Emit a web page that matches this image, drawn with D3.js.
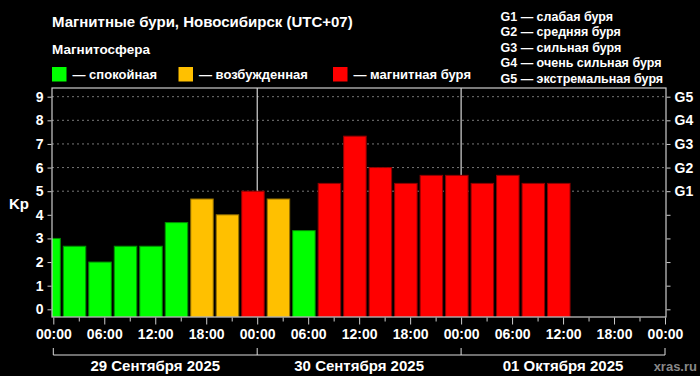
<!DOCTYPE html>
<html>
<head>
<meta charset="utf-8">
<script src="https://cdn.jsdelivr.net/npm/d3@7"></script>
<style>
    body { margin: 0; background: #000; }
    svg { display: block; font-family: "Liberation Sans", Arial, sans-serif; font-weight: bold; }
</style>
</head>
<body>
<div id="chart"></div>
<script>
// Kp index, 3-hour bins, local time UTC+07
let binStart = "2025-09-28T22:00:00Z"
let binHours = 3
let kpValues = [3, 2.67, 2, 2.67, 2.67, 3.67, 4.67, 4, 5, 4.67, 3.33,
    5.33, 7.33, 6, 5.33, 5.67, 5.67, 5.33, 5.67, 5.33, 5.33]

let days = ["2025-09-29", "2025-09-30", "2025-10-01", "2025-10-02"]
let dayLabels = ["29 Сентября 2025", "30 Сентября 2025", "01 Октября 2025"]
let kpTicks = [0, 1, 2, 3, 4, 5, 6, 7, 8, 9]
let gLevels = [5, 6, 7, 8, 9]
let gLabels = ["G1", "G2", "G3", "G4", "G5"]
let gDescriptions = ["слабая буря", "средняя буря", "сильная буря", "очень сильная буря", "экстремальная буря"]
let legendNames = ["спокойная", "возбужденная", "магнитная буря"]
let legendColors = ["#00ff00", "#ffc000", "#ff0000"]

let svgWidth = 700
let svgHeight = 376
let plot = { 'left': 52, 'right': 666, 'top': 88, 'bottom': 317 }

let svg = d3.select('#chart').append('svg')
    .attr('width', svgWidth)
    .attr('height', svgHeight)

svg.append('rect')
    .attr('width', svgWidth)
    .attr('height', svgHeight)
    .attr('fill', '#000')

let x = d3.scaleUtc()
    .domain([new Date(days[0] + "T00:00:00Z"), new Date(days[3] + "T00:00:00Z")])
    .range([53.3, 665])

let y = d3.scaleLinear()
    .domain([0, 9])
    .range([309.3, 96.7])

let color = d3.scaleThreshold()
    .domain([4, 5])
    .range(legendColors)

let bins = kpValues.map((v, i) => {
    let s = new Date(new Date(binStart).getTime() + i * binHours * 3600e3)
    let e = new Date(s.getTime() + binHours * 3600e3)
    return { start: s, end: e, kp: v }
})

// header
svg.append('text')
    .attr('x', 52).attr('y', 26.5)
    .attr('fill', '#fff')
    .attr('font-size', 15)
    .text('Магнитные бури, Новосибирск (UTC+07)')

svg.append('text')
    .attr('x', 52).attr('y', 54)
    .attr('fill', '#fff')
    .attr('font-size', 13.5)
    .text('Магнитосфера')

let legendX = [52, 178.5, 333]
let legend = svg.append('g')
    .selectAll('g')
    .data(legendNames)
    .enter()
    .append('g')
    .attr('transform', (d, i) => `translate(${legendX[i]}, 67)`)
legend.append('rect')
    .attr('width', 14.5)
    .attr('height', 14.5)
    .attr('fill', (d, i) => legendColors[i])
legend.append('text')
    .attr('x', 20.5)
    .attr('y', 11.5)
    .attr('fill', '#fff')
    .attr('font-size', 13)
    .text(d => '— ' + d)

svg.append('g')
    .selectAll('text')
    .data(gLabels)
    .enter()
    .append('text')
    .attr('x', 500.5)
    .attr('y', (d, i) => 21 + i * 15.4)
    .attr('fill', '#fff')
    .attr('font-size', 12.5)
    .text((d, i) => d + ' — ' + gDescriptions[i])

// grid for storm levels
svg.append('g')
    .selectAll('line')
    .data(gLevels)
    .enter()
    .append('line')
    .attr('x1', plot.left).attr('x2', plot.right)
    .attr('y1', d => y(d)).attr('y2', d => y(d))
    .attr('stroke', '#777')
    .attr('stroke-width', 1)
    .attr('stroke-dasharray', '2,3')

// day boundaries
svg.append('g')
    .selectAll('line')
    .data(days.slice(1, 3))
    .enter()
    .append('line')
    .attr('x1', d => x(new Date(d + "T00:00:00Z")))
    .attr('x2', d => x(new Date(d + "T00:00:00Z")))
    .attr('y1', plot.top).attr('y2', plot.bottom)
    .attr('stroke', '#fff')
    .attr('stroke-width', 1)

svg.append('clipPath')
    .attr('id', 'plotclip')
    .append('rect')
    .attr('x', plot.left).attr('y', plot.top)
    .attr('width', plot.right - plot.left)
    .attr('height', plot.bottom - plot.top)

svg.append('g')
    .attr('clip-path', 'url(#plotclip)')
    .selectAll('rect')
    .data(bins)
    .enter()
    .append('rect')
    .attr('x', d => x(d.start) + 1.5)
    .attr('width', d => x(d.end) - x(d.start) - 3)
    .attr('y', d => y(d.kp))
    .attr('height', d => plot.bottom - y(d.kp))
    .attr('fill', d => color(d.kp))
    .attr('stroke', d => d3.color(color(d.kp)).darker(1.6))
    .attr('stroke-width', 1)

// frame
svg.append('rect')
    .attr('x', plot.left).attr('y', plot.top)
    .attr('width', plot.right - plot.left)
    .attr('height', plot.bottom - plot.top)
    .attr('fill', 'none')
    .attr('stroke', '#ccc')
    .attr('stroke-width', 1.2)

// left axis
let axisLeft = d3.axisLeft(y)
    .tickValues(kpTicks)
    .tickSize(4)
    .tickPadding(4)
    .tickFormat(d => d)
let gLeft = svg.append('g')
    .attr('transform', `translate(${plot.left - 0.5}, 0)`)
    .call(axisLeft)
gLeft.select('.domain').remove()
gLeft.selectAll('line').attr('stroke', '#ccc')
gLeft.selectAll('text')
    .attr('fill', '#fff')
    .attr('font-size', 14)
    .attr('font-family', '"Liberation Sans", Arial, sans-serif')
    .attr('font-weight', 'bold')

// right axis with G levels
let axisRight = d3.axisRight(y)
    .tickValues(kpTicks)
    .tickSize(4)
    .tickPadding(4)
    .tickFormat(d => d >= 5 ? gLabels[gLevels.indexOf(d)] : '')
let gRight = svg.append('g')
    .attr('transform', `translate(${plot.right + 0.5}, 0)`)
    .call(axisRight)
gRight.select('.domain').remove()
gRight.selectAll('line').attr('stroke', '#ccc')
gRight.selectAll('text')
    .attr('fill', '#fff')
    .attr('font-size', 14)
    .attr('font-family', '"Liberation Sans", Arial, sans-serif')
    .attr('font-weight', 'bold')

svg.append('text')
    .attr('x', 9).attr('y', 209)
    .attr('fill', '#fff')
    .attr('font-size', 15)
    .text('Kp')

// bottom axis, ticks every 3 h, labels every 6 h
let axisBottom = d3.axisBottom(x)
    .ticks(d3.utcHour.every(3))
    .tickSize(4)
    .tickPadding(8)
    .tickFormat(d => d.getUTCHours() % 6 == 0 ? d3.utcFormat('%H:%M')(d) : '')
let gBottom = svg.append('g')
    .attr('transform', `translate(0, ${plot.bottom + 0.5})`)
    .call(axisBottom)
gBottom.select('.domain').remove()
gBottom.selectAll('line')
    .attr('stroke', '#ccc')
    .attr('y2', d => d.getUTCHours() % 6 == 0 ? 7 : 4)
gBottom.selectAll('text')
    .attr('fill', '#fff')
    .attr('font-size', 14)
    .attr('font-family', '"Liberation Sans", Arial, sans-serif')
    .attr('font-weight', 'bold')

// day brackets
let bracket = svg.append('g')
bracket.append('line')
    .attr('x1', x.range()[0]).attr('x2', x.range()[1])
    .attr('y1', 355).attr('y2', 355)
    .attr('stroke', '#ddd')
bracket.selectAll('.daytick')
    .data(days)
    .enter()
    .append('line')
    .attr('class', 'daytick')
    .attr('x1', d => x(new Date(d + "T00:00:00Z")))
    .attr('x2', d => x(new Date(d + "T00:00:00Z")))
    .attr('y1', 348).attr('y2', 355)
    .attr('stroke', '#ddd')
bracket.selectAll('text')
    .data(dayLabels)
    .enter()
    .append('text')
    .attr('x', (d, i) => (x(new Date(days[i] + "T00:00:00Z")) + x(new Date(days[i + 1] + "T00:00:00Z"))) / 2)
    .attr('y', 370.5)
    .attr('text-anchor', 'middle')
    .attr('fill', '#fff')
    .attr('font-size', 15)
    .text(d => d)

svg.append('text')
    .attr('x', 697).attr('y', 370.5)
    .attr('text-anchor', 'end')
    .attr('fill', '#888')
    .attr('font-size', 13)
    .text('xras.ru')
</script>
</body>
</html>
